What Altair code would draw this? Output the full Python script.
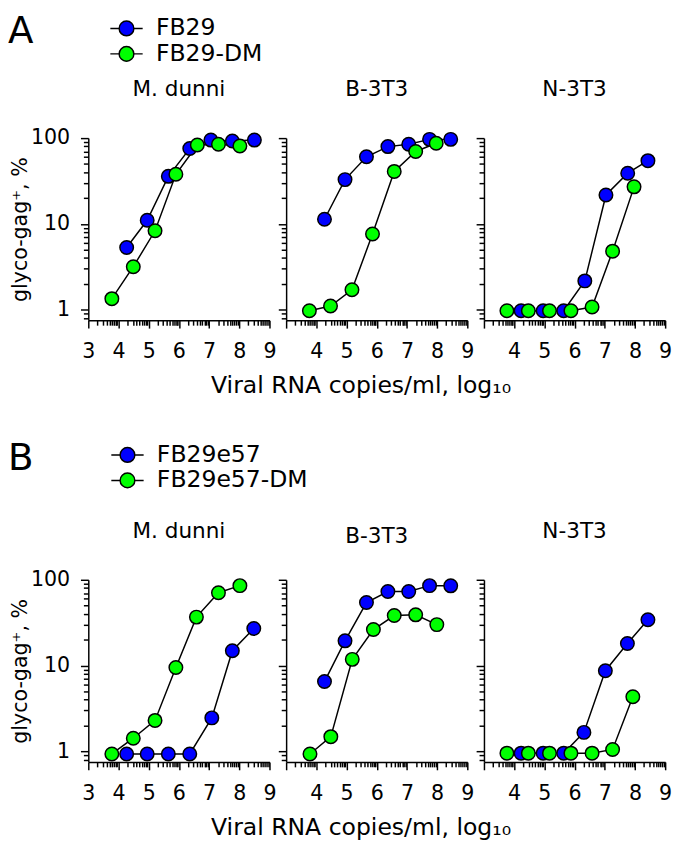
import math
import altair as alt
import pandas as pd

FONT = "DejaVu Sans"
BLUE = "#0000ff"
GREEN = "#00ff00"

cells = ["M. dunni", "B-3T3", "N-3T3"]
series_a = ["FB29", "FB29-DM"]
series_b = ["FB29e57", "FB29e57-DM"]

# ---- Panel A (FB29 / FB29-DM) ----
a_md_blue_x = [4.27, 4.95, 5.65, 6.36, 7.06, 7.77, 8.50]
a_md_blue_y = [5.3, 11.0, 35.8, 75.5, 94.8, 92.5, 94.8]
a_md_green_x = [3.78, 4.49, 5.21, 5.90, 6.61, 7.31, 8.02]
a_md_green_y = [1.34, 3.16, 8.3, 37.8, 83, 84.7, 81]

a_b3_blue_x = [4.27, 4.95, 5.66, 6.37, 7.06, 7.75, 8.45]
a_b3_blue_y = [11.3, 32.8, 60.6, 79.6, 84.7, 96.7, 96.7]
a_b3_green_x = [3.77, 4.47, 5.18, 5.86, 6.58, 7.29, 7.97]
a_b3_green_y = [0.97, 1.1, 1.7, 7.6, 40.9, 69.8, 87]

a_n3_blue_x = [4.23, 4.96, 5.64, 6.34, 7.04, 7.76, 8.43]
a_n3_blue_y = [0.97, 0.97, 0.97, 2.16, 21.7, 39, 54.6]
a_n3_green_x = [3.76, 4.47, 5.17, 5.88, 6.58, 7.26, 7.97]
a_n3_green_y = [0.97, 0.97, 0.97, 0.97, 1.07, 4.8, 27]

# ---- Panel B (FB29e57 / FB29e57-DM) ----
b_md_blue_x = [4.27, 4.95, 5.65, 6.36, 7.09, 7.77, 8.48]
b_md_blue_y = [0.93, 0.93, 0.93, 0.93, 2.45, 14.9, 27]
b_md_green_x = [3.78, 4.49, 5.21, 5.90, 6.58, 7.31, 8.02]
b_md_green_y = [0.93, 1.42, 2.29, 9.5, 36.7, 70.6, 85.5]

b_b3_blue_x = [4.27, 4.95, 5.66, 6.37, 7.06, 7.75, 8.45]
b_b3_blue_y = [6.5, 19.4, 54.3, 73, 73, 85.5, 85]
b_b3_green_x = [3.79, 4.48, 5.19, 5.89, 6.58, 7.29, 7.99]
b_b3_green_y = [0.93, 1.48, 11.8, 26.3, 38.3, 39, 30]

b_n3_blue_x = [4.23, 4.96, 5.64, 6.31, 7.02, 7.75, 8.43]
b_n3_blue_y = [0.95, 0.95, 0.95, 1.66, 8.7, 18.1, 34.2]
b_n3_green_x = [3.76, 4.47, 5.17, 5.88, 6.58, 7.26, 7.93]
b_n3_green_y = [0.95, 0.95, 0.95, 0.95, 0.95, 1.05, 4.33]

x_major = [3, 4, 5, 6, 7, 8, 9]
x_ticks = sorted(x_major + [round(n + math.log10(k), 5) for n in range(3, 9) for k in range(2, 10)])
y_ticks = [0.8, 0.9] + [k * 10 ** n for n in range(0, 2) for k in range(1, 10)] + [100]

x_title = "Viral RNA copies/ml, log\u2081\u2080"
y_title = "glyco-gag\u207a, %"

# per-panel title offsets (panel titles sit at the same height in every column)
title_offsets = [10, 12, 20]


def build_df(series, groups):
    rows = []
    for cell, (bx, by, gx, gy) in zip(cells, groups):
        for s, xs, ys, z in ((series[0], bx, by, 0), (series[1], gx, gy, 1)):
            for xv, yv in zip(xs, ys):
                rows.append({"cell": cell, "series": s, "x": xv, "y": yv, "z": z})
    return pd.DataFrame(rows)


df_a = build_df(series_a, [
    (a_md_blue_x, a_md_blue_y, a_md_green_x, a_md_green_y),
    (a_b3_blue_x, a_b3_blue_y, a_b3_green_x, a_b3_green_y),
    (a_n3_blue_x, a_n3_blue_y, a_n3_green_x, a_n3_green_y),
])
df_b = build_df(series_b, [
    (b_md_blue_x, b_md_blue_y, b_md_green_x, b_md_green_y),
    (b_b3_blue_x, b_b3_blue_y, b_b3_green_x, b_b3_green_y),
    (b_n3_blue_x, b_n3_blue_y, b_n3_green_x, b_n3_green_y),
])

X_MAJOR_TEST = "indexof([3,4,5,6,7,8,9], datum.value) >= 0"
Y_MAJOR_TEST = "indexof([1,10,100], datum.value) >= 0"

LEGEND_PATH = ("M-1.65,0L-0.75,0M0.75,0L1.65,0"
               "M-0.75,0A0.75,0.75,0,1,1,0.75,0A0.75,0.75,0,1,1,-0.75,0Z")


def panel(df, cell, series, letter, idx, legend_y):
    d = df[df.cell == cell]
    if idx == 0:
        xlab = "indexof([3,4,5,6,7,8,9], datum.value) >= 0 ? format(datum.value, 'd') : ''"
    else:
        xlab = "indexof([4,5,6,7,8,9], datum.value) >= 0 ? format(datum.value, 'd') : ''"
    xaxis_kw = dict(
        values=x_ticks, labelExpr=xlab, labelOverlap=False, labelFlush=False,
        tickSize={"condition": {"test": X_MAJOR_TEST, "value": 8}, "value": 5},
        labelPadding=13, title=None,
    )
    if idx == 1:
        xaxis_kw.update(title=x_title, titleX=76, titleAlign="center", titlePadding=13,
                        titleFontSize=24)
    yaxis_kw = dict(
        values=y_ticks, labelOverlap=False, labelFlush=False,
        tickSize={"condition": {"test": Y_MAJOR_TEST, "value": 8}, "value": 5},
        title=None,
    )
    if idx == 0:
        yaxis_kw.update(
            labelExpr="datum.value == 1 ? '1' : datum.value == 10 ? '10' : datum.value == 100 ? '100' : ''",
            labelPadding=11, title=y_title, titlePadding=0, titleFontSize=21,
        )
    else:
        yaxis_kw.update(labels=False)

    X = alt.X("x:Q", scale=alt.Scale(domain=[3, 9], nice=False, zero=False),
              axis=alt.Axis(**xaxis_kw))
    Y = alt.Y("y:Q", scale=alt.Scale(type="log", domain=[0.75, 100], nice=False),
              axis=alt.Axis(**yaxis_kw))
    legend = alt.Legend(
        title=letter, titleOrient="left", titleFontSize=38, titleFont=FONT,
        titleFontWeight="normal", titleColor="black", titlePadding=83,
        titleBaseline="line-top", titleLineHeight=31, titleAnchor="start",
        orient="none", legendX=-82, legendY=legend_y,
        symbolType=LEGEND_PATH, symbolSize=400, symbolStrokeColor="black",
        symbolStrokeWidth=1.5, symbolOpacity=1,
        labelFont=FONT, labelFontSize=24, labelColor="black", labelOffset=18,
        labelLimit=0, rowPadding=2, padding=0,
    )
    color = alt.Color("series:N", scale=alt.Scale(domain=series, range=[BLUE, GREEN]),
                      legend=legend)
    line = alt.Chart(d).mark_line(color="black", strokeWidth=1.5).encode(
        x=X, y=Y, detail="series:N", order="x:Q")
    pts = alt.Chart(d).mark_circle(size=190, opacity=1, stroke="black", strokeWidth=1.5).encode(
        x=X, y=Y, color=color, order="z:Q")
    return alt.layer(line, pts).properties(
        width=185, height=186,
        title=alt.Title(cell, fontSize=22, font=FONT, fontWeight="normal", color="black",
                        baseline="alphabetic", offset=title_offsets[idx], anchor="middle"),
    )


def row(df, series, letter, legend_y):
    return alt.hconcat(
        *[panel(df, c, series, letter, i, legend_y) for i, c in enumerate(cells)],
        spacing=17, bounds="flush",
    )


chart = alt.vconcat(
    row(df_a, series_a, "A", -124),
    row(df_b, series_b, "B", -139.5),
    spacing=46,
).resolve_scale(color="independent").properties(
    padding={"left": 0, "top": 0, "right": 0, "bottom": 0}
).configure_view(stroke=None).configure_axis(
    domainColor="black", domainWidth=1.5, tickColor="black", tickWidth=1.5,
    labelFont=FONT, labelFontSize=21, labelColor="black",
    titleFont=FONT, titleFontSize=23, titleFontWeight="normal", titleColor="black",
    grid=False,
)

chart.save("out.html", embed_options={"renderer": "svg", "actions": False})
